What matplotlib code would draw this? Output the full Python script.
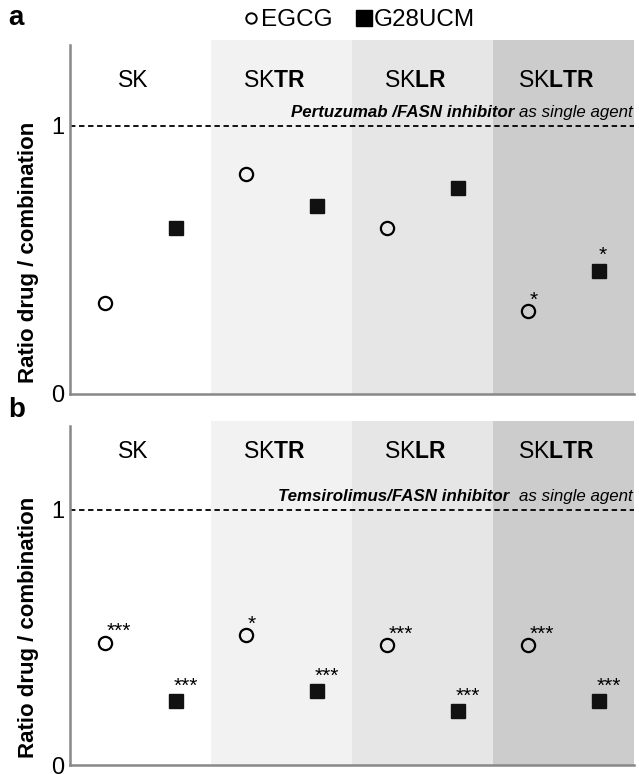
import matplotlib.pyplot as plt
from matplotlib.lines import Line2D

plt.rcParams['font.family'] = ['Liberation Sans', 'DejaVu Sans']
plt.rcParams['mathtext.fontset'] = 'custom'
plt.rcParams['mathtext.rm'] = 'Liberation Sans'
plt.rcParams['mathtext.bf'] = 'Liberation Sans:bold'

# data
cells = ["SK", r"SK$\mathbf{TR}$", r"SK$\mathbf{LR}$", r"SK$\mathbf{LTR}$"]
band_colors = ["#ffffff", "#f2f2f2", "#e6e6e6", "#cccccc"]

egcg_a = [0.34, 0.82, 0.62, 0.31]
g28_a = [0.62, 0.70, 0.77, 0.46]
egcg_a_sig = ["", "", "", "*"]
g28_a_sig = ["", "", "", "*"]

egcg_b = [0.48, 0.51, 0.47, 0.47]
g28_b = [0.25, 0.29, 0.21, 0.25]
egcg_b_sig = ["***", "*", "***", "***"]
g28_b_sig = ["***", "***", "***", "***"]

W, H = 639, 774
fig = plt.figure(figsize=(W / 100, H / 100), dpi=100)


def panel(rect, ytop, egcg, g28, esig, gsig, drug, lab_y):
    ax = fig.add_axes(rect)
    ax.set_xlim(0, 4)
    ax.set_ylim(0, ytop)
    for i, c in enumerate(band_colors):
        ax.axvspan(i, i + 1, color=c, lw=0, zorder=0)
        ax.text(i + 0.45, lab_y, cells[i], ha='center', va='center', fontsize=16.5)
    ax.axhline(1, color='black', lw=1.3, ls=(0, (3, 2)), zorder=2)
    xs = range(4)
    ax.plot([x + 0.25 for x in xs], egcg, 'o', ms=9.5, mfc='none', mec='black', mew=1.6, zorder=3)
    ax.plot([x + 0.75 for x in xs], g28, 's', ms=10.5, mfc='#111111', mec='#111111', zorder=3)
    for i in xs:
        if esig[i] == "*" and len(set(esig)) > 2:
            ax.annotate(esig[i], (i + 0.25, egcg[i]), xytext=(0, 5), textcoords='offset points',
                        ha='center', va='bottom', fontsize=15)
        elif esig[i]:
            ax.annotate(esig[i], (i + 0.25, egcg[i]), xytext=(1, 1), textcoords='offset points',
                        ha='left', va='bottom', fontsize=15)
        if gsig[i]:
            ax.annotate(gsig[i], (i + 0.75, g28[i]), xytext=(0 if gsig[i] == "*" else 7, 4),
                        textcoords='offset points',
                        ha='left' if gsig[i] == "*" else 'center', va='bottom', fontsize=15)
    # label above dashed line
    t1 = ax.text(3.99, 1.022, "as single agent", ha='right', va='bottom', fontsize=12.2,
                 style='italic')
    ax.annotate(drug, xy=(0, 0), xycoords=t1, ha='right', va='bottom', fontsize=12.2,
                style='italic', weight='bold')
    ax.set_yticks([0, 1])
    ax.set_yticklabels(["0", "1"], fontsize=17)
    ax.tick_params(axis='y', length=0, pad=4)
    ax.set_xticks([])
    for s in ['top', 'right']:
        ax.spines[s].set_visible(False)
    for s in ['left', 'bottom']:
        ax.spines[s].set_color('#888888')
        ax.spines[s].set_linewidth(1.8)
    ax.spines['left'].set_bounds(0, ytop - 0.02)
    ax.set_ylabel("Ratio drug / combination", fontsize=16, weight='bold')
    ax.yaxis.set_label_coords(-0.055, 0.40)
    return ax


panel([70 / W, (H - 394) / H, 564 / W, 354 / H], 354 / 268, egcg_a, g28_a,
      egcg_a_sig, g28_a_sig, "Pertuzumab /FASN inhibitor ", 1.17)
panel([70 / W, (H - 765) / H, 564 / W, 344 / H], 344 / 255, egcg_b, g28_b,
      egcg_b_sig, g28_b_sig, "Temsirolimus/FASN inhibitor  ", 1.23)

fig.text(8 / W, 1 - 18 / H, "a", fontsize=20, weight='bold', ha='left', va='center')
fig.text(8 / W, 1 - 410 / H, "b", fontsize=20, weight='bold', ha='left', va='center')

handles = [Line2D([], [], ls='none', marker='o', ms=7.5, mfc='none', mec='black', mew=1.4),
           Line2D([], [], ls='none', marker='s', ms=11, mfc='black', mec='black')]
fig.legend(handles, ["EGCG", "G28UCM"], loc='center', bbox_to_anchor=(358 / W, 1 - 20 / H),
           ncol=2, frameon=False, fontsize=17.5, handletextpad=0.0, columnspacing=0.9,
           handlelength=0.8)

fig.savefig("out.png", dpi=100)
